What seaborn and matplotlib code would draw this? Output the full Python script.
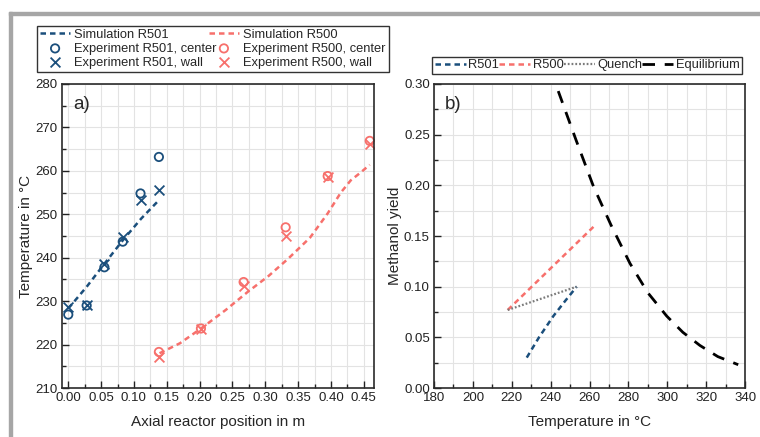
import matplotlib
matplotlib.use("Agg")
import matplotlib.pyplot as plt
import seaborn as sns
from matplotlib.patches import Rectangle
from matplotlib.ticker import MultipleLocator, FormatStrFormatter

# --- data ---
# a) temperature along the reactor
sim501_x = [0.0, 0.028, 0.055, 0.083, 0.111, 0.139]
sim501_T = [228.3, 233.3, 238.6, 244.0, 249.0, 253.4]
sim500_x = [0.139, 0.17, 0.203, 0.24, 0.273, 0.305, 0.335, 0.368, 0.395, 0.415, 0.43, 0.445, 0.459]
sim500_T = [218.0, 220.3, 223.8, 228.0, 232.1, 235.8, 239.8, 244.6, 250.2, 255.0, 257.8, 259.6, 261.4]

exp501_x = [0.0, 0.028, 0.055, 0.083, 0.110, 0.138]
exp501_center = [226.9, 229.0, 237.8, 243.7, 254.8, 263.2]
exp501_wall = [228.6, 229.1, 238.5, 244.8, 253.3, 255.6]

exp500_x = [0.138, 0.202, 0.267, 0.331, 0.395, 0.459]
exp500_center = [218.3, 223.7, 234.4, 247.0, 258.8, 266.9]
exp500_wall = [217.2, 223.6, 233.6, 245.0, 258.7, 266.2]

# b) methanol yield vs temperature
r501_T = [227.7, 234.0, 241.4, 247.5, 253.4]
r501_Y = [0.030, 0.050, 0.071, 0.086, 0.100]
r500_T = [217.9, 262.0]
r500_Y = [0.077, 0.159]
quench_T = [217.9, 253.4]
quench_Y = [0.077, 0.100]
equil_T = [243.9, 253.0, 262.0, 271.0, 280.8, 290.0, 299.7, 308.0, 316.8, 326.0, 336.5]
equil_Y = [0.293, 0.245, 0.199, 0.161, 0.123, 0.094, 0.071, 0.055, 0.042, 0.031, 0.023]

blue = "#1b4f7c"
red = "#f7706c"

sns.set_style("ticks")
plt.rcParams["font.family"] = ["Liberation Sans", "DejaVu Sans"]

fig = plt.figure(figsize=(7.6, 4.37), dpi=100)
ax1 = fig.add_axes([0.0816, 0.1121, 0.4105, 0.6957])
ax2 = fig.add_axes([0.5711, 0.1121, 0.4092, 0.6957])

# gray frame of the original page
fig.patches.append(Rectangle((9 / 760, 0), 3 / 760, 1 - 12 / 437, transform=fig.transFigure,
                             color="#a6a6a6", zorder=0))
fig.patches.append(Rectangle((9 / 760, 1 - 15 / 437), 1, 3 / 437, transform=fig.transFigure,
                             color="#a6a6a6", zorder=0))

short = (2.2, 1.6)

# ---- panel a ----
sns.lineplot(x=sim501_x, y=sim501_T, ax=ax1, color=blue, lw=1.8,
             label="Simulation R501").lines[-1].set_dashes(short)
sns.scatterplot(x=exp501_x, y=exp501_center, ax=ax1, marker="o", s=36, facecolors="none",
                edgecolor=blue, linewidth=1.3, label="Experiment R501, center")
sns.scatterplot(x=exp501_x, y=exp501_wall, ax=ax1, marker="x", s=50, color=blue,
                linewidth=1.3, label="Experiment R501, wall")
sns.lineplot(x=sim500_x, y=sim500_T, ax=ax1, color=red, lw=1.8,
             label="Simulation R500").lines[-1].set_dashes(short)
sns.scatterplot(x=exp500_x, y=exp500_center, ax=ax1, marker="o", s=36, facecolors="none",
                edgecolor=red, linewidth=1.3, label="Experiment R500, center")
sns.scatterplot(x=exp500_x, y=exp500_wall, ax=ax1, marker="x", s=50, color=red,
                linewidth=1.3, label="Experiment R500, wall")

ax1.set_xlim(-0.0095, 0.4655)
ax1.set_ylim(210, 280)
ax1.xaxis.set_major_locator(MultipleLocator(0.05))
ax1.xaxis.set_minor_locator(MultipleLocator(0.025))
ax1.xaxis.set_major_formatter(FormatStrFormatter("%.2f"))
ax1.yaxis.set_major_locator(MultipleLocator(10))
ax1.yaxis.set_minor_locator(MultipleLocator(5))
ax1.set_xlabel("Axial reactor position in m", fontsize=11, labelpad=8)
ax1.set_ylabel("Temperature in °C", fontsize=11, labelpad=2)
ax1.text(0.035, 0.96, "a)", transform=ax1.transAxes, fontsize=13.5, va="top", ha="left")

h1, l1 = ax1.get_legend_handles_labels()
ax1.get_legend().remove()
fig.legend(h1, l1, ncol=2, loc="lower left",
           bbox_to_anchor=(37 / 760, 1 - 72 / 437, (389 - 37) / 760, (72 - 23) / 437),
           mode="expand", fontsize=9.3, frameon=True, fancybox=False, edgecolor="black",
           handlelength=2.3, handletextpad=0.35, borderpad=0.25, labelspacing=0.15,
           columnspacing=0.6, borderaxespad=0)

# ---- panel b ----
sns.lineplot(x=r501_T, y=r501_Y, ax=ax2, color=blue, lw=1.8,
             label="R501").lines[-1].set_dashes(short)
sns.lineplot(x=r500_T, y=r500_Y, ax=ax2, color=red, lw=1.8,
             label="R500").lines[-1].set_dashes(short)
sns.lineplot(x=quench_T, y=quench_Y, ax=ax2, color="#7a7a7a", lw=1.6,
             label="Quench").lines[-1].set_dashes((0.8, 0.9))
sns.lineplot(x=equil_T, y=equil_Y, ax=ax2, color="black", lw=2.0,
             label="Equilibrium").lines[-1].set_dashes((4.5, 3.5))

ax2.set_xlim(180, 340)
ax2.set_ylim(0, 0.30)
ax2.xaxis.set_major_locator(MultipleLocator(20))
ax2.xaxis.set_minor_locator(MultipleLocator(10))
ax2.yaxis.set_major_locator(MultipleLocator(0.05))
ax2.yaxis.set_minor_locator(MultipleLocator(0.025))
ax2.yaxis.set_major_formatter(FormatStrFormatter("%.2f"))
ax2.set_xlabel("Temperature in °C", fontsize=11, labelpad=8)
ax2.set_ylabel("Methanol yield", fontsize=11, labelpad=1.5)
ax2.text(0.035, 0.96, "b)", transform=ax2.transAxes, fontsize=13.5, va="top", ha="left")

h2, l2 = ax2.get_legend_handles_labels()
ax2.get_legend().remove()
fig.legend(h2, l2, ncol=4, loc="lower left",
           bbox_to_anchor=(432 / 760, 1 - 74 / 437, (742 - 432) / 760, (74 - 53) / 437),
           mode="expand", fontsize=9.3, frameon=True, fancybox=False, edgecolor="black",
           handlelength=2.4, handletextpad=0.2, borderpad=0.2, columnspacing=0.2,
           borderaxespad=0)

for ax in (ax1, ax2):
    ax.grid(True, which="both", color="#e3e3e3", lw=0.8, zorder=0)
    ax.set_axisbelow(True)
    ax.tick_params(which="both", direction="in", labelsize=9.5, colors="#222222", pad=3)
    ax.tick_params(which="major", length=5, width=1)
    ax.tick_params(which="minor", length=3, width=1)
    for sp in ax.spines.values():
        sp.set_visible(True)
        sp.set_color("#2a2a2a")
        sp.set_linewidth(1.2)

fig.savefig("out.png", dpi=100)
